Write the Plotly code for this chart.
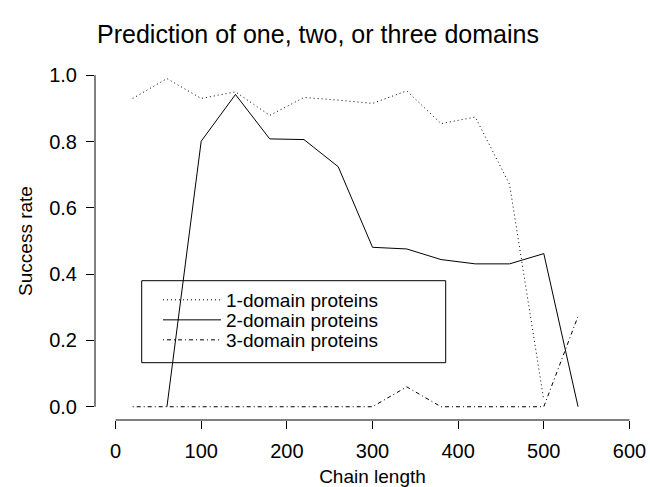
import plotly.graph_objects as go

chain_length = [20, 60, 100, 140, 180, 220, 260, 300, 340, 380, 420, 460, 500, 540]
one_domain = [0.93, 0.99, 0.93, 0.95, 0.879, 0.933, 0.925, 0.915, 0.953, 0.854, 0.874, 0.671, 0.02, None]
two_domain = [None, 0.0, 0.801, 0.942, 0.808, 0.806, 0.724, 0.481, 0.476, 0.444, 0.431, 0.431, 0.462, 0.0]
three_domain = [0.0, 0.0, 0.0, 0.0, 0.0, 0.0, 0.0, 0.0, 0.06, 0.0, 0.0, 0.0, 0.0, 0.273]

x_ticks = [0, 100, 200, 300, 400, 500, 600]
y_ticks = [0.0, 0.2, 0.4, 0.6, 0.8, 1.0]
y_tick_text = ["0.0", "0.2", "0.4", "0.6", "0.8", "1.0"]

FONT = "Liberation Sans, Arial, Helvetica, sans-serif"

W, H = 650, 487
L, R, T, B = 95, 0, 62, 67
PW, PH = W - L - R, H - T - B


def px_x(p):
    return (p - L) / PW


def px_y(p):
    return (H - B - p) / PH


fig = go.Figure()
fig.add_trace(go.Scatter(x=chain_length, y=one_domain, mode="lines", name="1-domain proteins",
                         legend="legend",
                         line=dict(color="black", width=1, dash="1px,3px")))
fig.add_trace(go.Scatter(x=chain_length, y=two_domain, mode="lines", name="2-domain proteins",
                         legend="legend2",
                         line=dict(color="black", width=1)))
fig.add_trace(go.Scatter(x=chain_length, y=three_domain, mode="lines", name="3-domain proteins",
                         legend="legend3",
                         line=dict(color="black", width=1, dash="1px,3px,4px,3px")))

leg_common = dict(xanchor="left", yanchor="middle", bgcolor="rgba(0,0,0,0)", borderwidth=0,
                  font=dict(size=19), itemwidth=58, itemclick=False, itemdoubleclick=False)
leg_x = px_x(158)

fig.update_layout(
    width=W, height=H,
    margin=dict(l=L, r=R, t=T, b=B),
    paper_bgcolor="white", plot_bgcolor="white",
    font=dict(family=FONT, size=19, color="black"),
    title=dict(text="Prediction of one, two, or three domains", x=318 / W, xanchor="center",
               y=1 - 34 / H, yanchor="middle", font=dict(size=25)),
    showlegend=True,
    legend=dict(x=leg_x, y=px_y(300), **leg_common),
    legend2=dict(x=leg_x, y=px_y(320), **leg_common),
    legend3=dict(x=leg_x, y=px_y(340), **leg_common),
    xaxis=dict(range=[-24, 624], tickvals=x_ticks, ticks="outside", ticklen=8, tickcolor="black",
               showgrid=False, zeroline=False, showline=False, tickfont=dict(size=20),
               automargin=False, ticklabelstandoff=5,
               title=dict(text="Chain length", font=dict(size=19), standoff=10)),
    yaxis=dict(range=[-0.04, 1.04], tickvals=y_ticks, ticktext=y_tick_text, ticks="outside", ticklen=8,
               tickcolor="black", showgrid=False, zeroline=False, showline=False, tickfont=dict(size=20),
               automargin=False, ticklabelstandoff=5,
               title=dict(text="Success rate", font=dict(size=19), standoff=11)),
    shapes=[
        dict(type="line", xref="x", yref="paper", x0=x_ticks[0], x1=x_ticks[-1], y0=0, y1=0,
             line=dict(color="black", width=1)),
        dict(type="line", xref="paper", yref="y", x0=0, x1=0, y0=y_ticks[0], y1=y_ticks[-1],
             line=dict(color="black", width=1)),
        dict(type="rect", xref="paper", yref="paper",
             x0=px_x(141.7), x1=px_x(445.7), y0=px_y(362.7), y1=px_y(280.7),
             line=dict(color="black", width=1)),
    ],
)

fig.write_html("out.html", config={"displayModeBar": False},
               post_script="document.body.style.margin='0';document.body.style.padding='0';")
